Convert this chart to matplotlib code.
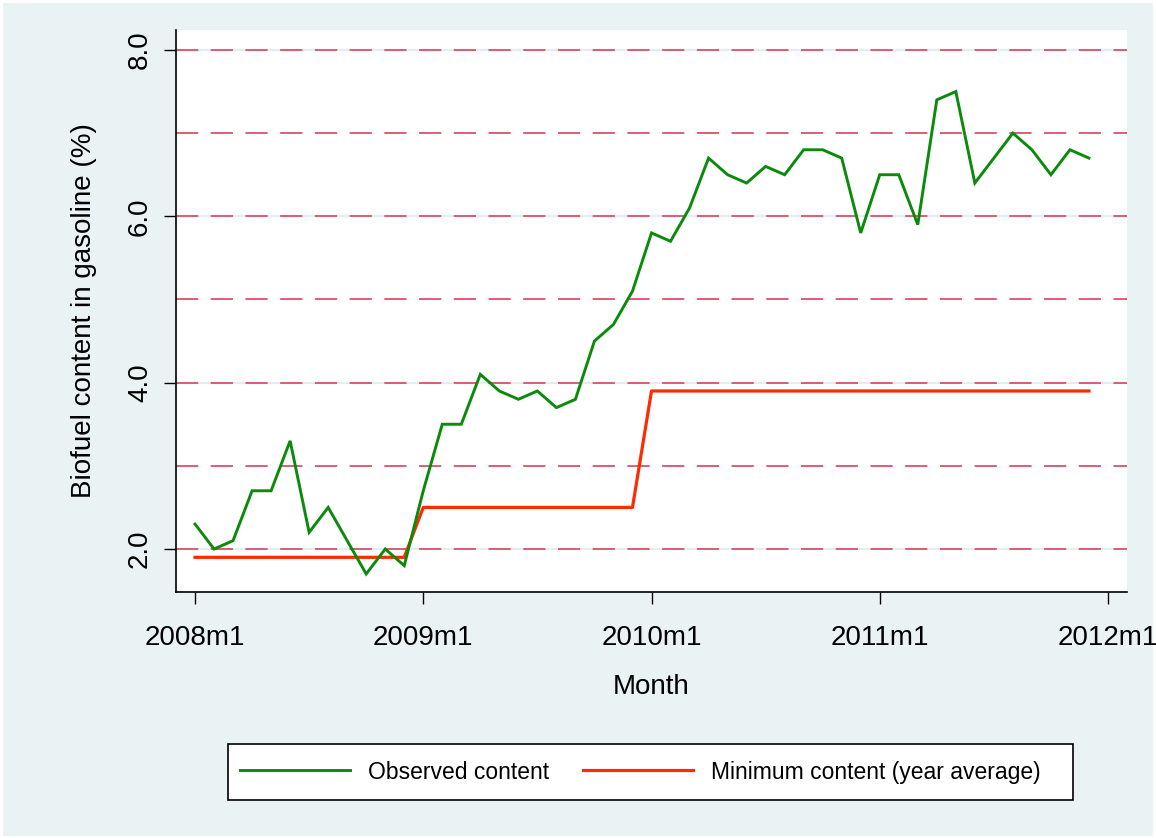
import matplotlib
matplotlib.use("Agg")
import matplotlib.pyplot as plt
from matplotlib.patches import Rectangle
import numpy as np

plt.rcParams['font.family'] = ['Liberation Sans', 'DejaVu Sans']
plt.rcParams['lines.scale_dashes'] = False

# ---- data (monthly, 2008m1 .. 2011m12) ----
observed = [2.3, 2.0, 2.1, 2.7, 2.7, 3.3, 2.2, 2.5, 2.1, 1.7, 2.0, 1.8,
            2.7, 3.5, 3.5, 4.1, 3.9, 3.8, 3.9, 3.7, 3.8, 4.5, 4.7, 5.1,
            5.8, 5.7, 6.1, 6.7, 6.5, 6.4, 6.6, 6.5, 6.8, 6.8, 6.7, 5.8,
            6.5, 6.5, 5.9, 7.4, 7.5, 6.4, 6.7, 7.0, 6.8, 6.5, 6.8, 6.7]
minimum = [1.9, 1.9, 1.9, 1.9, 1.9, 1.9, 1.9, 1.9, 1.9, 1.9, 1.9, 1.9,
           2.5, 2.5, 2.5, 2.5, 2.5, 2.5, 2.5, 2.5, 2.5, 2.5, 2.5, 2.5,
           3.9, 3.9, 3.9, 3.9, 3.9, 3.9, 3.9, 3.9, 3.9, 3.9, 3.9, 3.9,
           3.9, 3.9, 3.9, 3.9, 3.9, 3.9, 3.9, 3.9, 3.9, 3.9, 3.9, 3.9]
xtick_pos = [0, 12, 24, 36, 48]
xtick_labels = ['2008m1', '2009m1', '2010m1', '2011m1', '2012m1']
ytick_pos = [2, 4, 6, 8]
ytick_labels = ['2.0', '4.0', '6.0', '8.0']
grid_major = [2, 4, 6, 8]
grid_minor = [3, 5, 7]
series_labels = ['Observed content', 'Minimum content (year average)']

BG = '#EAF3F3'
GRID = '#D9506B'
W, H = 1156, 838

fig = plt.figure(figsize=(W / 100, H / 100), dpi=100, facecolor='white')
fig.patches.append(Rectangle((3 / W, 2 / H), (W - 6) / W, (H - 5) / H,
                             transform=fig.transFigure, facecolor=BG,
                             edgecolor='none', zorder=-10))

ax = fig.add_axes([176 / W, 1 - 592 / H, (1127 - 176) / W, (592 - 30) / H])
ax.set_facecolor('white')

months = np.arange(len(observed))

for g in grid_major:
    ax.axhline(g, color='#E4EEEF', lw=1.6, zorder=1)
    ax.axhline(g, color=GRID, lw=1.3, dashes=(16, 9), zorder=1.5)
for g in grid_minor:
    ax.axhline(g, color=GRID, lw=1.3, dashes=(16, 9), zorder=1.5)

l1, = ax.plot(months, observed, color='#0B8A0B', lw=2.1, zorder=3,
              solid_joinstyle='miter')
l2, = ax.plot(months, minimum, color='#FF2A00', lw=2.3, zorder=2.5)

ax.set_xlim(-1.0, 49.0)
ax.set_ylim(1.483, 8.24)

ax.set_xticks(xtick_pos)
ax.set_xticklabels(xtick_labels, fontsize=20)
ax.set_yticks(ytick_pos)
ax.set_yticklabels(ytick_labels, fontsize=20, rotation=90, va='center')
ax.tick_params(axis='both', direction='out', length=8.5, width=1.0,
               color='black')
ax.tick_params(axis='x', pad=15.5)
ax.tick_params(axis='y', pad=8)

for s in ['top', 'right']:
    ax.spines[s].set_visible(False)
for s in ['left', 'bottom']:
    ax.spines[s].set_linewidth(1.2)

ax.set_xlabel('Month', fontsize=20, labelpad=16)
ax.set_ylabel('Biofuel content in gasoline (%)', fontsize=20, labelpad=22)

# legend frame
fig.patches.append(Rectangle((228 / W, 1 - 800 / H), (1073 - 228) / W, (800 - 744) / H,
                             transform=fig.transFigure, facecolor='white',
                             edgecolor='black', linewidth=1.2, zorder=5))
leg = fig.legend([l1, l2], series_labels, ncol=2, fontsize=16.5,
                 loc='center left',
                 bbox_to_anchor=(240 / W, 1 - 772 / H),
                 frameon=False, borderpad=0, borderaxespad=0,
                 handlelength=4.8, handletextpad=0.8,
                 columnspacing=1.45)
leg.set_zorder(6)

fig.savefig('out.png', dpi=100, facecolor=fig.get_facecolor())
